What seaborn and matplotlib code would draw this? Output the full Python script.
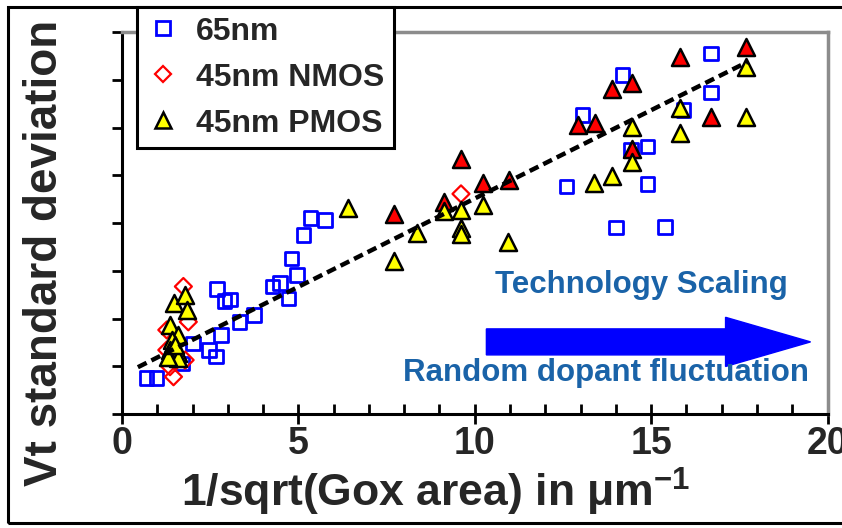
import matplotlib
matplotlib.use("Agg")
import matplotlib.pyplot as plt
import matplotlib.patches as mpatches
from matplotlib.lines import Line2D
from matplotlib.ticker import MultipleLocator
import seaborn as sns
import pandas as pd

# ---- data ----
sq65_x = [0.70, 0.98, 1.70, 2.02, 2.47, 2.67, 2.80, 2.70, 2.90, 3.06, 3.33, 3.74, 4.26, 4.48,
          4.72, 4.81, 4.96, 5.14, 5.35, 5.76, 12.60, 13.06, 14.01, 14.19, 14.43, 14.90, 14.90,
          15.40, 15.92, 16.70, 16.70]
sq65_y = [0.75, 0.75, 1.06, 1.48, 1.34, 1.20, 1.65, 2.62, 2.37, 2.40, 1.93, 2.07, 2.67, 2.74,
          2.42, 3.26, 2.91, 3.75, 4.10, 4.06, 4.76, 6.26, 3.91, 7.10, 5.53, 5.60, 4.82,
          3.92, 6.37, 7.55, 6.73]

nmos_x = [1.74, 1.88, 1.27, 1.36, 1.46, 1.27, 1.79, 9.61]
nmos_y = [2.67, 1.93, 1.76, 0.99, 0.78, 1.34, 1.13, 4.61]

nmos_fill_x = [7.72, 9.13, 9.62, 10.22, 10.96, 12.94, 13.40, 13.89, 14.46, 14.46, 15.83, 16.70, 17.70]
nmos_fill_y = [4.19, 4.45, 5.35, 4.84, 4.91, 6.05, 6.10, 6.80, 6.94, 5.56, 7.48, 6.23, 7.69]

pmos_x = [1.46, 1.79, 1.83, 1.36, 1.60, 1.41, 1.36, 1.60, 1.60, 1.30, 1.50,
          6.42, 7.70, 8.36, 9.13, 9.61, 9.61, 9.61, 10.22, 10.94,
          13.39, 13.89, 14.46, 14.46, 15.83, 15.83, 17.70, 17.70]
pmos_y = [2.32, 2.49, 2.18, 1.86, 1.65, 1.55, 1.34, 1.27, 1.17, 1.19, 1.45,
          4.31, 3.21, 3.80, 4.25, 4.27, 3.89, 3.77, 4.38, 3.61,
          4.83, 4.98, 5.28, 6.02, 6.40, 5.88, 7.27, 6.23]

trend_x = [0.45, 17.75]
trend_y = [0.98, 7.38]

x_ticks = [0, 5, 10, 15, 20]
legend_labels = ["65nm", "45nm NMOS", "45nm PMOS"]

# ---- style ----
sns.set_theme(style="white")
plt.rcParams["font.family"] = ["Liberation Sans", "DejaVu Sans"]
plt.rcParams["font.weight"] = "bold"
plt.rcParams["mathtext.fontset"] = "custom"
plt.rcParams["mathtext.rm"] = "Liberation Sans:bold"
plt.rcParams["mathtext.bf"] = "Liberation Sans:bold"
plt.rcParams["mathtext.default"] = "rm"

fig = plt.figure(figsize=(8.42, 5.28), dpi=100)
W, H = 842, 528
ax = fig.add_axes([122 / W, 1 - 414 / H, (827.5 - 122) / W, (414 - 32) / H])

df65 = pd.DataFrame({"x": sq65_x, "y": sq65_y})
dfn = pd.DataFrame({"x": nmos_x, "y": nmos_y})
dfnf = pd.DataFrame({"x": nmos_fill_x, "y": nmos_fill_y})
dfp = pd.DataFrame({"x": pmos_x, "y": pmos_y})

sns.scatterplot(data=df65, x="x", y="y", marker="s", s=95, facecolor="none",
                edgecolor="#0000ff", linewidth=2.0, ax=ax, zorder=3)
sns.scatterplot(data=dfn, x="x", y="y", marker="D", s=75, facecolor="none",
                edgecolor="#ff0000", linewidth=1.6, ax=ax, zorder=3)
sns.scatterplot(data=dfnf, x="x", y="y", marker="^", s=150, facecolor="#ff0000",
                edgecolor="black", linewidth=1.8, ax=ax, zorder=4)
sns.scatterplot(data=dfp, x="x", y="y", marker="^", s=150, facecolor="#ffff00",
                edgecolor="black", linewidth=1.8, ax=ax, zorder=4)
sns.lineplot(x=trend_x, y=trend_y, color="black", linestyle=(0, (2.2, 1.2)), linewidth=3.2,
             ax=ax, zorder=6)

ax.set_xlim(0, 20)
ax.set_ylim(0, 8)
ax.set_xlabel("")
ax.set_ylabel("")

ax.set_xticks(x_ticks)
ax.set_xticklabels([str(t) for t in x_ticks])
ax.xaxis.set_minor_locator(MultipleLocator(1))
ax.set_yticks(range(0, 9))
ax.tick_params(axis="x", which="major", direction="inout", length=14, width=2,
               color="black", labelsize=27, pad=2, bottom=True)
ax.tick_params(axis="x", which="minor", direction="in", length=7, width=2,
               color="black", bottom=True)
ax.tick_params(axis="y", which="major", direction="out", length=7, width=2,
               color="black", labelleft=False, left=True)
for lab in ax.get_xticklabels():
    lab.set_fontweight("bold")

for side in ["left", "bottom"]:
    ax.spines[side].set_color("black")
    ax.spines[side].set_linewidth(2.2)
for side in ["top", "right"]:
    ax.spines[side].set_color("#8c8c8c")
    ax.spines[side].set_linewidth(2.5)

# arrow
ax.add_patch(mpatches.FancyArrow(10.33, 1.51, 19.52 - 10.33, 0, width=0.545,
                                 head_width=1.03, head_length=2.41,
                                 length_includes_head=True, color="#0000ff",
                                 zorder=2, clip_on=False))
ax.text(14.72, 2.70, "Technology Scaling", color="#1a63a8", fontsize=22.5,
        fontweight="bold", ha="center", va="center", zorder=7)
ax.text(13.73, 0.86, "Random dopant fluctuation", color="#1a63a8", fontsize=22.5,
        fontweight="bold", ha="center", va="center", zorder=7)

# axis labels
fig.text(45 / W, 1 - 253 / H, "Vt standard deviation", rotation=90, fontsize=33,
         fontweight="bold", ha="center", va="center")
fig.text(436 / W, 1 - 492 / H, "1/sqrt(Gox area) in μm$^{-1}$", fontsize=32,
         fontweight="bold", ha="center", va="center")

# legend
handles = [
    Line2D([], [], marker="s", ls="", mfc="none", mec="#0000ff", mew=2, ms=10),
    Line2D([], [], marker="D", ls="", mfc="none", mec="#ff0000", mew=1.6, ms=8.5),
    Line2D([], [], marker="^", ls="", mfc="#ffff00", mec="black", mew=1.8, ms=12),
]
leg = fig.legend(handles, legend_labels, loc="upper left",
                 bbox_to_anchor=(137 / W, 1 - 7 / H), frameon=True, fancybox=False,
                 fontsize=23, borderpad=0.3, labelspacing=0.5, handletextpad=0.55,
                 handlelength=1.0, borderaxespad=0)
leg.get_frame().set_edgecolor("black")
leg.get_frame().set_linewidth(2.2)
leg.get_frame().set_facecolor("white")
leg.get_frame().set_alpha(1)
for t in leg.get_texts():
    t.set_fontweight("bold")
leg.set_zorder(10)

# outer figure frame
fig.patches.append(mpatches.Rectangle((8 / W, 5 / H), 1.2, 1 - 12 / H,
                                      transform=fig.transFigure, fill=False,
                                      edgecolor="black", linewidth=2.2))

fig.savefig("out.png", dpi=100)
